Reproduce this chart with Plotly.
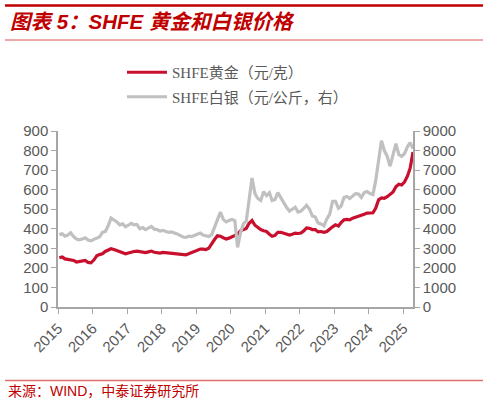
import pandas as pd
import plotly.graph_objects as go

# monthly (mid-month) readings, Jan 2015 - Mar 2025, plus last print mid-April 2025
months = pd.date_range("2015-01-01", "2025-03-01", freq="MS") + pd.Timedelta(days=14)
dates = list(months.strftime("%Y-%m-%d")) + ["2025-04-14"]

# SHFE gold, yuan/gram
gold = [252, 256, 246, 243, 242, 238, 230, 234, 236, 238, 228, 226,
        240, 262, 268, 272, 284, 292, 298, 294, 288, 282, 276, 272,
        276, 282, 284, 286, 284, 282, 278, 282, 286, 280, 278, 276,
        279, 277, 276, 275, 274, 271, 268, 265, 267, 272, 277, 282,
        290, 296, 296, 294, 300, 326, 345, 364, 362, 354, 348, 352,
        358, 368, 372, 390, 398, 402, 428, 442, 418, 405, 396, 390,
        386, 372, 362, 366, 382, 382, 376, 374, 368, 372, 378, 376,
        378, 390, 404, 402, 396, 396, 384, 386, 382, 386, 400, 410,
        420, 414, 432, 446, 448, 446, 454, 458, 462, 470, 474, 480,
        482, 482, 505, 548, 558, 556, 564, 574, 588, 615, 628, 624,
        640, 670, 710, 792]

# SHFE silver, yuan/kg (right axis)
silver = [3700, 3740, 3620, 3680, 3800, 3600, 3480, 3440, 3480, 3540, 3420, 3380,
          3460, 3520, 3580, 3820, 3860, 4150, 4550, 4450, 4350, 4200, 4250, 4100,
          4180, 4280, 4200, 4220, 4000, 4060, 3960, 4050, 4120, 3980, 3960, 3880,
          3920, 3860, 3820, 3840, 3800, 3740, 3660, 3580, 3560, 3620, 3600, 3660,
          3740, 3780, 3680, 3640, 3600, 3700, 4080, 4500, 4850, 4480, 4350, 4420,
          4480, 4420, 3050, 3800, 4250, 4400, 5500, 6600, 5800, 5550, 5450, 5900,
          5700, 5850, 5450, 5500, 5850, 5550, 5350, 5100, 4900, 5000, 5100, 4850,
          4900, 5050, 5200, 5000, 4650, 4600, 4300, 4250, 4150, 4500, 4750, 5400,
          5400, 5050, 5150, 5600, 5650, 5550, 5700, 5800, 5780, 5600, 5850, 5900,
          5800, 5750, 6450, 7400, 8500, 8000, 7700, 7200, 7750, 8350, 7800, 7700,
          7850, 8200, 8400, 8100]

W, H = 488, 404
L, R, T, B = 58, 75, 131, 97

def px(x):
    return (x - L) / (W - L - R)

def py(y):
    return (H - B - y) / (H - T - B)

axis_font = dict(family="Liberation Sans, Arial", size=15, color="#595959")
red = "#C00000"

fig = go.Figure()
fig.add_trace(go.Scatter(x=dates, y=silver, name="SHFE白银（元/公斤，右）", yaxis="y2",
                         mode="lines", line=dict(color="#C0C0C0", width=3.2),
                         legendgroup="ag", legendrank=2))
fig.add_trace(go.Scatter(x=dates, y=gold, name="SHFE黄金（元/克）",
                         mode="lines", line=dict(color="#C8102E", width=3.2),
                         legendgroup="au", legendrank=1))

fig.update_layout(
    width=W, height=H,
    margin=dict(l=L, r=R, t=T, b=B),
    paper_bgcolor="white", plot_bgcolor="white",
    showlegend=True,
    legend=dict(x=px(122), y=py(56), xanchor="left", yanchor="top",
                bgcolor="rgba(0,0,0,0)", tracegroupgap=2, itemwidth=40,
                font=dict(family="Liberation Serif, Noto Sans CJK SC", size=15, color="#595959")),
    xaxis=dict(type="date", range=["2015-01-01", "2025-04-14"],
               tick0="2015-01-01", dtick="M12", tickformat="%Y", tickangle=-45,
               showline=True, linecolor="#A6A6A6", linewidth=1.5,
               ticks="outside", ticklen=5, tickcolor="#A6A6A6",
               showgrid=False, zeroline=False, tickfont=axis_font),
    yaxis=dict(range=[0, 900], dtick=100, showline=True, linecolor="#A6A6A6", linewidth=1.5,
               ticks="outside", ticklen=5, tickcolor="#A6A6A6",
               showgrid=False, zeroline=False, tickfont=axis_font),
    yaxis2=dict(range=[0, 9000], dtick=1000, overlaying="y", side="right",
                showline=True, linecolor="#A6A6A6", linewidth=1.5,
                ticks="outside", ticklen=5, tickcolor="#A6A6A6",
                showgrid=False, zeroline=False, tickfont=axis_font),
)

fig.add_annotation(text="<b><i>图表 5：SHFE 黄金和白银价格</i></b>", xref="paper", yref="paper",
                   x=px(8), y=py(22), xanchor="left", yanchor="middle", showarrow=False,
                   font=dict(family="Liberation Sans, Noto Sans CJK SC", size=20.5, color=red))
fig.add_annotation(text="来源：WIND，中泰证券研究所", xref="paper", yref="paper",
                   x=px(6), y=py(391), xanchor="left", yanchor="middle", showarrow=False,
                   font=dict(family="Liberation Sans, Noto Sans CJK SC", size=14, color=red))

fig.add_shape(type="line", xref="paper", yref="paper", x0=px(5), x1=px(483), y0=py(5.5), y1=py(5.5),
              line=dict(color=red, width=2.5))
fig.add_shape(type="line", xref="paper", yref="paper", x0=px(5), x1=px(483), y0=py(40), y1=py(40),
              line=dict(color="#D9534F", width=1))
fig.add_shape(type="line", xref="paper", yref="paper", x0=px(5), x1=px(483), y0=py(380.5), y1=py(380.5),
              line=dict(color="#E07070", width=1.5))

# page body has a default 8px margin; drop it so the figure sits at the window corner
fig.write_html("out.html", config={"displayModeBar": False},
               post_script="document.body.style.margin='0';")
